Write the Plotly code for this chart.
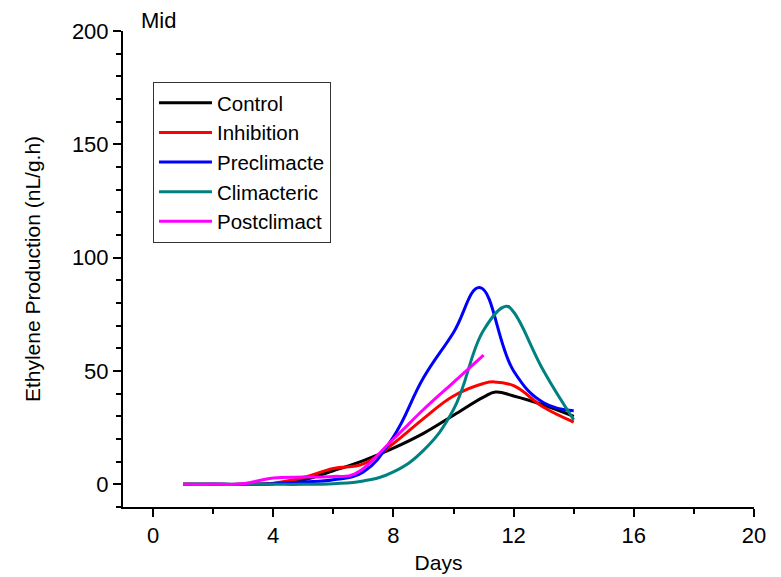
import plotly.graph_objects as go

# Data (Days vs ethylene production, nL/g.h)
control_x = [1, 2, 3, 4, 5, 6, 7, 8, 9, 10, 11, 11.4, 12, 13, 14]
control_y = [0, 0, 0, 0.3, 2, 6, 10.5, 16, 22.5, 30.5, 38.5, 40.7, 39, 35, 30]

inhib_x = [1, 2, 3, 4, 5, 6, 7, 8, 9, 10, 11, 11.35, 12, 13, 14]
inhib_y = [0, 0, 0, 0.5, 3, 7, 9, 18, 29, 39, 44.5, 45.2, 43.5, 34, 27.5]

precl_x = [1, 2, 3, 4, 5, 6, 7, 8, 9, 10, 10.87, 12, 13, 14]
precl_y = [0, 0, 0, 0.3, 1, 2, 5.5, 21, 47, 67, 86.8, 50, 36, 32.5]

clim_x = [1, 2, 3, 4, 5, 6, 7, 8, 9, 10, 11, 11.75, 12, 13, 14]
clim_y = [0, 0, 0, 0, 0, 0.3, 1.5, 5.5, 15, 33, 68, 78.6, 76, 50, 28.5]

post_x = [1, 2, 3, 4, 5, 6, 6.7, 8, 9, 10, 11]
post_y = [0, 0, 0.3, 2.8, 3.2, 3.5, 4.5, 20, 33, 45, 57]

series = [
    ("Control", control_x, control_y, "#000000"),
    ("Inhibition", inhib_x, inhib_y, "#FF0000"),
    ("Preclimacte", precl_x, precl_y, "#0000FF"),
    ("Climacteric", clim_x, clim_y, "#008080"),
    ("Postclimact", post_x, post_y, "#FF00FF"),
]

x_ticks = [0, 4, 8, 12, 16, 20]
y_ticks = [0, 50, 100, 150, 200]

FONT = "Arial, Liberation Sans, sans-serif"
FS = 21
TFS = 22

fig = go.Figure()
for name, xs, ys, col in series:
    fig.add_trace(go.Scatter(
        x=xs, y=ys, name=name, mode="lines",
        line=dict(color=col, width=3, shape="spline", smoothing=1.2),
    ))

fig.update_layout(
    width=773, height=569,
    margin=dict(l=115, r=27, t=23, b=70, autoexpand=False),
    paper_bgcolor="white", plot_bgcolor="white",
    font=dict(family=FONT, size=FS, color="black"),
    showlegend=True,
    legend=dict(
        x=0.0475, y=0.893, xanchor="left", yanchor="top",
        bordercolor="#333333", borderwidth=1, bgcolor="white",
        font=dict(family=FONT, size=20.5, color="black"),
        tracegroupgap=0, itemwidth=53,
    ),
    annotations=[dict(
        text="Mid", xref="paper", yref="paper", x=0.025, y=1.023,
        xanchor="left", yanchor="middle", showarrow=False,
        font=dict(family=FONT, size=TFS, color="black"),
    )],
)

fig.update_xaxes(
    range=[-1, 20], tickvals=x_ticks, ticktext=[str(v) for v in x_ticks],
    showgrid=False, zeroline=False, showline=True, linecolor="black", linewidth=2,
    ticks="outside", ticklen=8, tickwidth=2, tickcolor="black", automargin=False,
    minor=dict(dtick=2, tick0=0, ticks="outside", ticklen=5, tickwidth=2, tickcolor="black", showgrid=False),
    title=dict(text="Days", font=dict(family=FONT, size=FS), standoff=8),
    tickfont=dict(family=FONT, size=TFS),
)
fig.update_yaxes(
    range=[-10, 200], tickvals=y_ticks, ticktext=[str(v) for v in y_ticks],
    showgrid=False, zeroline=False, showline=True, linecolor="black", linewidth=2,
    ticks="outside", ticklen=8, tickwidth=2, tickcolor="black", automargin=False,
    minor=dict(dtick=10, tick0=0, ticks="outside", ticklen=5, tickwidth=2, tickcolor="black", showgrid=False),
    title=dict(text="Ethylene Production (nL/g.h)", font=dict(family=FONT, size=FS), standoff=26),
    tickfont=dict(family=FONT, size=TFS),
)

fig.write_html("out.html")
